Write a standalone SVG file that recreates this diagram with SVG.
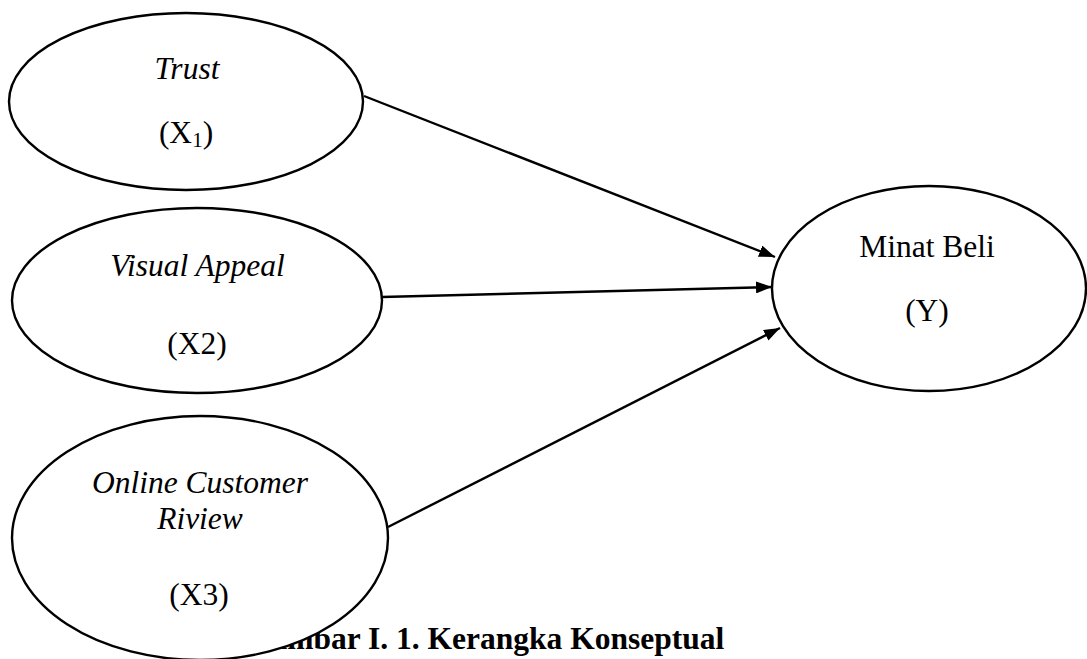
<svg xmlns="http://www.w3.org/2000/svg" width="1087" height="659" viewBox="0 0 1087 659">
<style>
.node{fill:#fff;stroke:#000;stroke-width:2.4}
.t{font-family:"Liberation Serif","Times New Roman",serif;font-size:31.5px;fill:#000;text-anchor:middle}
.i{font-style:italic}
.title{font-family:"Liberation Serif","Times New Roman",serif;font-size:31.5px;font-weight:bold;fill:#000}
.edge{stroke:#000;stroke-width:2.4;fill:none}
</style>
<defs>
<marker id="arr" viewBox="0 0 16 12" refX="16" refY="6" markerWidth="16" markerHeight="12" markerUnits="userSpaceOnUse" orient="auto">
<path d="M0,0 L16,6 L0,12 z" fill="#000"/>
</marker>
</defs>
<rect width="1087" height="659" fill="#fff"/>
<text class="title" x="247" y="649">Gambar I. 1. Kerangka Konseptual</text>
<g id="connectors">
<line class="edge" x1="364" y1="96" x2="775" y2="257" marker-end="url(#arr)"/>
<line class="edge" x1="382" y1="297" x2="772" y2="287" marker-end="url(#arr)"/>
<line class="edge" x1="388" y1="527" x2="780" y2="328" marker-end="url(#arr)"/>
</g>
<g id="trust">
<ellipse class="node" cx="186" cy="101.5" rx="177" ry="88.5"/>
<text class="t i" x="187" y="79">Trust</text>
<text class="t" x="186" y="143">(X<tspan font-size="21" dy="4">1</tspan><tspan dy="-4">)</tspan></text>
</g>
<g id="visual-appeal">
<ellipse class="node" cx="197" cy="300.5" rx="185" ry="92.5"/>
<text class="t i" x="197.5" y="276">Visual Appeal</text>
<text class="t" x="197" y="354">(X2)</text>
</g>
<g id="online-customer-review">
<ellipse class="node" cx="200" cy="538" rx="188" ry="122"/>
<text class="t i" x="200" y="493">Online Customer</text>
<text class="t i" x="200" y="529">Riview</text>
<text class="t" x="199" y="605">(X3)</text>
</g>
<g id="minat-beli">
<ellipse class="node" cx="929" cy="288.5" rx="157" ry="102.5"/>
<text class="t" x="927" y="257">Minat Beli</text>
<text class="t" x="927" y="321">(Y)</text>
</g>
</svg>
